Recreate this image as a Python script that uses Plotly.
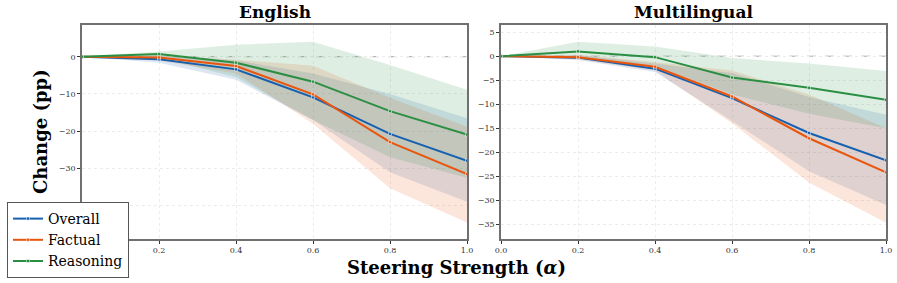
import plotly.graph_objects as go

alphas = [0.0, 0.2, 0.4, 0.6, 0.8, 1.0]
series_names = ["Overall", "Factual", "Reasoning"]

# English
en_overall = [0, -0.7, -3.4, -10.9, -20.7, -27.9]
en_overall_hi = [0, 0.3, -1.0, -4.5, -10.0, -16.5]
en_overall_lo = [0, -1.6, -6.2, -17.0, -31.0, -38.9]
en_factual = [0, -0.2, -2.5, -10.1, -22.9, -31.5]
en_factual_hi = [0, 0.6, -0.8, -2.4, -11.0, -18.8]
en_factual_lo = [0, -1.0, -4.5, -18.0, -35.3, -44.5]
en_reasoning = [0, 0.7, -1.6, -6.7, -14.6, -20.9]
en_reasoning_hi = [0, 1.4, 3.2, 4.0, -2.2, -8.9]
en_reasoning_lo = [0, -0.3, -5.5, -17.0, -27.0, -32.5]

# Multilingual
ml_overall = [0, -0.3, -2.6, -8.75, -16.0, -21.7]
ml_overall_hi = [0, 0.2, -1.5, -3.5, -8.5, -12.2]
ml_overall_lo = [0, -0.8, -3.3, -13.5, -24.0, -31.0]
ml_factual = [0, -0.2, -2.2, -8.4, -17.1, -24.2]
ml_factual_hi = [0, 0.3, -1.2, -3.0, -8.0, -15.0]
ml_factual_lo = [0, -0.7, -3.0, -14.0, -26.3, -34.7]
ml_reasoning = [0, 1.0, -0.2, -4.45, -6.6, -9.1]
ml_reasoning_hi = [0, 3.0, 2.0, -0.4, -1.5, -3.1]
ml_reasoning_lo = [0, -0.5, -2.0, -8.0, -12.0, -15.0]

panel_titles = ["English", "Multilingual"]
colors = ["#1660b0", "#e8560e", "#2a8f43"]
fills = ["rgba(22,96,176,0.15)", "rgba(232,86,14,0.15)", "rgba(42,143,67,0.15)"]

panels = [
    [(en_overall, en_overall_hi, en_overall_lo),
     (en_factual, en_factual_hi, en_factual_lo),
     (en_reasoning, en_reasoning_hi, en_reasoning_lo)],
    [(ml_overall, ml_overall_hi, ml_overall_lo),
     (ml_factual, ml_factual_hi, ml_factual_lo),
     (ml_reasoning, ml_reasoning_hi, ml_reasoning_lo)],
]

W, H = 897, 283
FONT = "'DejaVu Serif', 'Liberation Serif', serif"
fig = go.Figure()

xdoms = [[82 / W, 467 / W], [501 / W, 886 / W]]
ydom = [1 - 239 / H, 1 - 25 / H]
yranges = [[-48.9, 8.5], [-38.1, 6.5]]
ytickvals = [[0, -10, -20, -30, -40], [5, 0, -5, -10, -15, -20, -25, -30, -35]]
xtickvals = [[0.2, 0.4, 0.6, 0.8, 1.0], [0.0, 0.2, 0.4, 0.6, 0.8, 1.0]]

for p, data in enumerate(panels):
    xa = "x" if p == 0 else "x2"
    ya = "y" if p == 0 else "y2"
    # bands
    for i, (mid, hi, lo) in enumerate(data):
        fig.add_trace(go.Scatter(x=alphas, y=hi, mode="lines", line=dict(width=0),
                                 hoverinfo="skip", showlegend=False, xaxis=xa, yaxis=ya))
        fig.add_trace(go.Scatter(x=alphas, y=lo, mode="lines", line=dict(width=0),
                                 fill="tonexty", fillcolor=fills[i],
                                 hoverinfo="skip", showlegend=False, xaxis=xa, yaxis=ya))
    # zero reference line
    fig.add_shape(type="line", xref=f"{xa} domain", yref=ya, x0=0, x1=1, y0=0, y1=0,
                  line=dict(color="#a8a8a8", width=1, dash="dash"), layer="below")
    for i, (mid, hi, lo) in enumerate(data):
        fig.add_trace(go.Scatter(x=alphas, y=mid, mode="lines+markers", name=series_names[i],
                                 line=dict(color=colors[i], width=2),
                                 marker=dict(symbol="square", size=3, color=colors[i],
                                             line=dict(color="white", width=0.5)),
                                 showlegend=(p == 0), xaxis=xa, yaxis=ya))

axis_common = dict(showline=True, mirror=True, linecolor="#707070", linewidth=1.5,
                   showgrid=True, gridcolor="#ececec", griddash="dot", gridwidth=1,
                   zeroline=False, ticks="outside", ticklen=3, tickwidth=1, automargin=False,
                   tickcolor="#333333", tickfont=dict(family=FONT, size=8, color="#333333"))

fig.update_layout(
    xaxis=dict(domain=xdoms[0], range=[0, 1], anchor="y", tickvals=xtickvals[0],
               tickformat=".1f", **axis_common),
    yaxis=dict(domain=ydom, range=yranges[0], anchor="x", tickvals=ytickvals[0], **axis_common),
    xaxis2=dict(domain=xdoms[1], range=[0, 1], anchor="y2", tickvals=xtickvals[1],
                tickformat=".1f", **axis_common),
    yaxis2=dict(domain=ydom, range=yranges[1], anchor="x2", tickvals=ytickvals[1], **axis_common),
)

annots = []
for p, t in enumerate(panel_titles):
    annots.append(dict(text=f"<b>{t}</b>", x=(xdoms[p][0] + xdoms[p][1]) / 2, y=1 - 12 / H,
                       xref="paper", yref="paper", showarrow=False,
                       font=dict(family=FONT, size=17, color="black"),
                       xanchor="center", yanchor="middle"))
annots.append(dict(text="<b>Change (pp)</b>", x=40 / W, y=1 - 132 / H, xref="paper", yref="paper",
                   showarrow=False, textangle=-90, font=dict(family=FONT, size=18, color="black"),
                   xanchor="center", yanchor="middle"))
annots.append(dict(text="<b>Steering Strength (<i>α</i>)</b>", x=457 / W, y=1 - 267 / H,
                   xref="paper", yref="paper", showarrow=False,
                   font=dict(family=FONT, size=18, color="black"),
                   xanchor="center", yanchor="middle"))

fig.update_layout(
    width=W, height=H, margin=dict(l=0, r=0, t=0, b=0, autoexpand=False),
    paper_bgcolor="white", plot_bgcolor="white",
    annotations=annots,
    legend=dict(x=7 / W, y=1 - 278 / H, xanchor="left", yanchor="bottom",
                bgcolor="white", bordercolor="#555555", borderwidth=1,
                font=dict(family=FONT, size=14, color="black"),
                traceorder="normal", tracegroupgap=0, itemwidth=30),
    showlegend=True,
)

fig.write_html("out.html", config={"displayModeBar": False},
               post_script="document.body.style.margin='0';document.body.style.overflow='hidden';")
